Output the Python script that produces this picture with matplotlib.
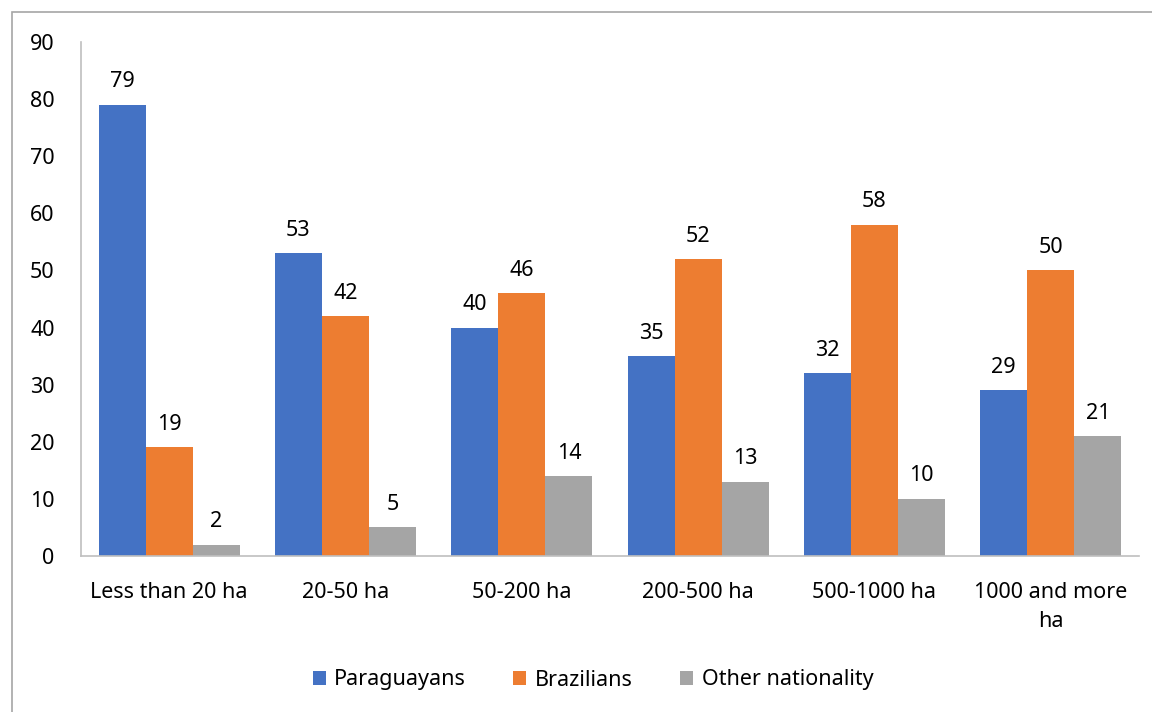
import numpy as np
from matplotlib import pyplot as plt
from matplotlib.patches import Rectangle

categories = ["Less than 20 ha", "20-50 ha", "50-200 ha", "200-500 ha", "500-1000 ha", "1000 and more\nha"]
series_names = ["Paraguayans", "Brazilians", "Other nationality"]
paraguayans = [79, 53, 40, 35, 32, 29]
brazilians = [19, 42, 46, 52, 58, 50]
other = [2, 5, 14, 13, 10, 21]
colors = ["#4472C4", "#ED7D31", "#A5A5A5"]

plt.rcParams["font.family"] = ["Noto Sans", "DejaVu Sans"]

W, H = 1152, 712
fig = plt.figure(figsize=(W / 100, H / 100), dpi=100)
ax = fig.add_axes([81 / W, 1 - 556 / H, (1139 - 81) / W, (556 - 42) / H])

# chart frame (only left and top edges are inside the image)
fig.patches.append(Rectangle((12 / W, -0.1), 1.2, 1 - 12 / H + 0.1, transform=fig.transFigure,
                             fill=False, edgecolor="#A6A6A6", linewidth=1.2))

x = np.arange(len(categories))
bw = 0.267
for i, (vals, name, col) in enumerate(zip((paraguayans, brazilians, other), series_names, colors)):
    xs = x + (i - 1) * bw
    ax.bar(xs, vals, width=bw, color=col, label=name)
    for xi, v in zip(xs, vals):
        ax.annotate(str(v), (xi, v), xytext=(0, 9), textcoords="offset points",
                    ha="center", va="bottom", fontsize=15.5, color="black")

ax.set_xlim(-0.5, len(categories) - 0.5)
ax.set_ylim(0, 90)
ax.set_yticks(range(0, 91, 10))
ax.set_xticks(x)
ax.set_xticklabels(categories, fontsize=15.5, linespacing=1.45)
ax.tick_params(axis="y", labelsize=15.5, length=0, pad=19)
ax.tick_params(axis="x", length=0, pad=19)
for s in ("top", "right"):
    ax.spines[s].set_visible(False)
for s in ("left", "bottom"):
    ax.spines[s].set_color("#BFBFBF")
    ax.spines[s].set_linewidth(1.2)

fig.legend(loc="center", bbox_to_anchor=(593 / W, 1 - 680 / H), ncol=3, frameon=False,
           fontsize=15.5, handlelength=0.6, handleheight=0.6, handletextpad=0.4, columnspacing=2.2)

fig.savefig("out.png", dpi=100)
